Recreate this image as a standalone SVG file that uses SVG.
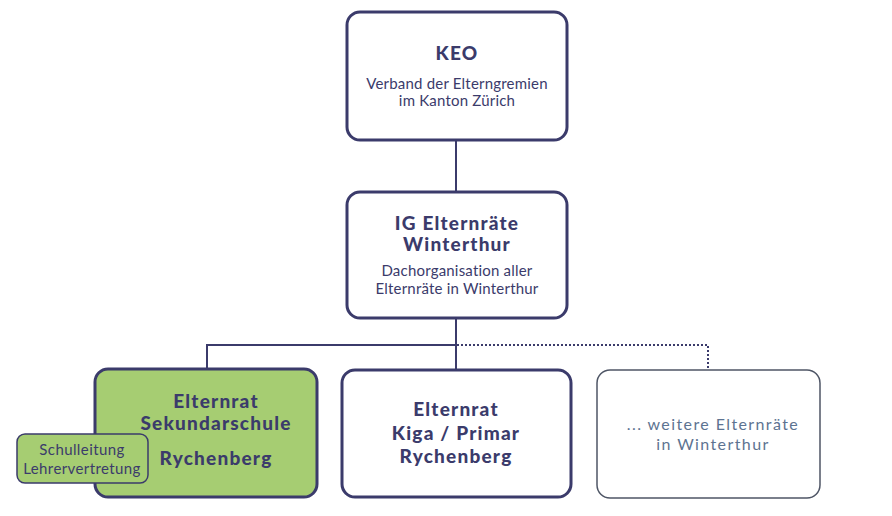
<svg xmlns="http://www.w3.org/2000/svg" width="892" height="516" viewBox="0 0 892 516">
<style>
.box{fill:#ffffff;stroke:#3b3b6b;stroke-width:3}
.green{fill:#a6cd72;stroke:#3b3b6b;stroke-width:3}
.small{fill:#a6cd72;stroke:#3b3b6b;stroke-width:1.5}
.grey{fill:#ffffff;stroke:#4f5666;stroke-width:1.5}
.t{font-family:Lato,"Open Sans","Liberation Sans",sans-serif;fill:#3b3b6b;text-anchor:middle}
.h{font-weight:900;font-size:19px;letter-spacing:1.2px}
.s{font-size:15px;letter-spacing:0.2px}
.ss{font-size:15px;letter-spacing:0.4px}
.g{fill:#5d7391;font-size:16px;letter-spacing:1.4px}
.c{stroke:#3b3b6b;stroke-width:2;fill:none}
.d{stroke:#3b3b6b;stroke-width:2;fill:none;stroke-dasharray:2 2}
</style>
<rect width="892" height="516" fill="#ffffff"/>
<g id="connectors">
<line class="c" x1="456" y1="140" x2="456" y2="192"/>
<line class="c" x1="456" y1="318" x2="456" y2="345"/>
<polyline class="c" points="207,369 207,345 456,345"/>
<line class="c" x1="456" y1="345" x2="456" y2="370"/>
<polyline class="d" points="457,345 708,345 708,370"/>
</g>
<g id="keo">
<rect class="box" x="347" y="12" width="220" height="128" rx="13"/>
<text class="t h" x="457" y="60">KEO</text>
<text class="t s" x="457" y="89">Verband der Elterngremien</text>
<text class="t s" x="457" y="106">im Kanton Zürich</text>
</g>
<g id="ig">
<rect class="box" x="347" y="192" width="220" height="126" rx="13"/>
<text class="t h" x="457" y="230">IG Elternräte</text>
<text class="t h" x="457" y="251">Winterthur</text>
<text class="t s" x="457" y="276">Dachorganisation aller</text>
<text class="t s" x="457" y="294">Elternräte in Winterthur</text>
</g>
<g id="sek">
<rect class="green" x="95" y="369" width="222" height="128" rx="13"/>
<text class="t h" x="216" y="408">Elternrat</text>
<text class="t h" x="216" y="430">Sekundarschule</text>
<text class="t h" x="216" y="465">Rychenberg</text>
</g>
<g id="schulleitung">
<rect class="small" x="17" y="434" width="131" height="49" rx="8"/>
<text class="t ss" x="82" y="455">Schulleitung</text>
<text class="t ss" x="82" y="474">Lehrervertretung</text>
</g>
<g id="kiga">
<rect class="box" x="342" y="370" width="229" height="127" rx="13"/>
<text class="t h" x="456" y="416">Elternrat</text>
<text class="t h" x="456" y="440">Kiga / Primar</text>
<text class="t h" x="456" y="463">Rychenberg</text>
</g>
<g id="weitere">
<rect class="grey" x="597" y="370" width="223" height="128" rx="13"/>
<text class="t g" x="713" y="430">... weitere Elternräte</text>
<text class="t g" x="713" y="450">in Winterthur</text>
</g>
</svg>
